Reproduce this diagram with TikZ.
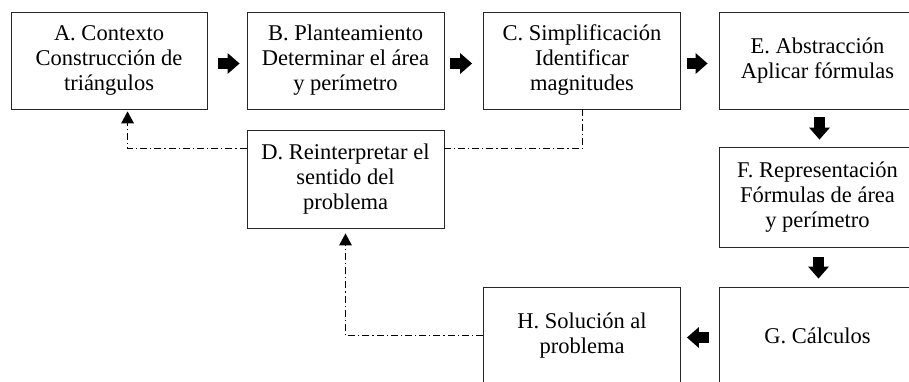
\documentclass[tikz,border=0pt]{standalone}
\usepackage{fontspec}
\setmainfont{Liberation Serif}
\usetikzlibrary{arrows.meta}
\begin{document}
\begin{tikzpicture}[x=1pt,y=-1pt,
  box/.style={draw=black!85, line width=0.9pt, minimum width=197pt, minimum height=97pt,
    inner sep=0pt, align=center, font=\fontsize{22.5}{25}\selectfont},
  blk/.style={line width=11pt, -{Triangle[length=12pt,width=21pt,line width=0pt]}},
  fb/.style={line width=0.8pt, dash pattern=on 7pt off 3pt on 1.2pt off 3pt},
  fbarr/.style={fb, -{Triangle[length=12pt,width=13pt,line width=0pt]}}]
\useasboundingbox (0,0) rectangle (909,382);
\clip (0,0) rectangle (909,382);

\node[box, minimum width=196pt] (A) at (109,60.5) {A. Contexto\\Construcción de\\triángulos};
\node[box] (B) at (345.5,60.5) {B. Planteamiento\\Determinar el área\\y perímetro};
\node[box] (C) at (582,60.5) {C. Simplificación\\Identificar\\magnitudes};
\node[box] (E) at (817.5,60.5) {E. Abstracción\\Aplicar fórmulas};
\node[box, minimum height=98pt] (D) at (345.5,179) {D. Reinterpretar el\\sentido del\\problema};
\node[box, minimum height=100pt] (F) at (817.5,197) {F. Representación\\Fórmulas de área\\y perímetro};
\node[box] (G) at (817.5,335.5) {G. Cálculos};
\node[box] (H) at (582,335.5) {H. Solución al\\problema};

\draw[blk, shorten <=11pt, shorten >=7pt] ([yshift=-3pt]A.east) -- ([yshift=-3pt]B.west);
\draw[blk, shorten <=6pt, shorten >=11pt] ([yshift=-3pt]B.east) -- ([yshift=-3pt]C.west);
\draw[blk, shorten <=6pt, shorten >=11pt] ([yshift=-3pt]C.east) -- ([yshift=-3pt]E.west);
\draw[blk, shorten <=8pt, shorten >=7pt] ([xshift=2pt]E.south) -- ([xshift=2pt]F.north);
\draw[blk, shorten <=10pt, shorten >=8pt] ([xshift=1pt]F.south) -- ([xshift=1pt]G.north);
\draw[blk, shorten <=10pt, shorten >=6pt] ([yshift=-2pt]G.west) -- ([yshift=-2pt]H.east);

\draw[fb] (C.south) |- ([yshift=-19pt]D.north east);
\draw[fbarr] ([yshift=-19pt]D.north west) -| ([xshift=117pt,yshift=-2pt]A.south west);
\draw[fbarr] (H.west) -| ([yshift=-5pt]D.south);
\end{tikzpicture}
\end{document}
